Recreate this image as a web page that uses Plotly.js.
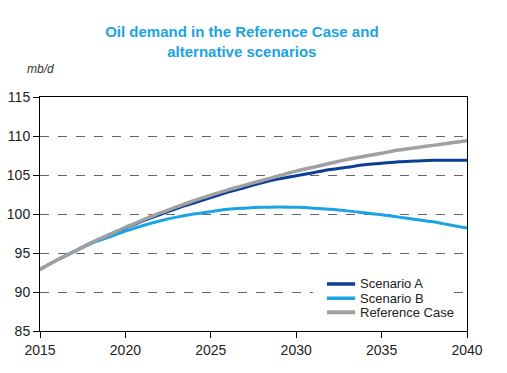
<!DOCTYPE html>
<html>
<head>
<meta charset="utf-8">
<script src="https://cdn.plot.ly/plotly-3.0.1.min.js"></script>
<style>html,body{margin:0;padding:0;background:#fff;}#chart{width:507px;height:373px;}</style>
</head>
<body>
<div id="chart"></div>
<script>
const years = [2015,2016,2017,2018,2019,2020,2021,2022,2023,2024,2025,2026,2027,2028,2029,2030,2031,2032,2033,2034,2035,2036,2037,2038,2039,2040];
const scenarioA = [92.9,94.1,95.2,96.3,97.3,98.2,99.1,99.9,100.7,101.4,102.1,102.8,103.4,104.0,104.5,104.9,105.3,105.7,106.0,106.3,106.5,106.7,106.8,106.9,106.9,106.9];
const scenarioB = [92.9,94.1,95.2,96.2,97.0,97.8,98.5,99.1,99.6,100.0,100.3,100.6,100.75,100.85,100.9,100.85,100.75,100.6,100.4,100.15,99.9,99.6,99.3,99.0,98.6,98.2];
const referenceCase = [92.9,94.1,95.2,96.3,97.3,98.3,99.2,100.1,100.9,101.7,102.4,103.1,103.7,104.3,104.9,105.5,106.0,106.5,107.0,107.4,107.8,108.2,108.5,108.8,109.1,109.4];
const seriesNames = ["Scenario A","Scenario B","Reference Case"];
const seriesColors = ["#0a3f94","#1ba3e3","#a0a0a0"];
const xTicks = [2015,2020,2025,2030,2035,2040];
const yTicks = [85,90,95,100,105,110,115];

const tickFont = {family:"Liberation Sans, Arial, sans-serif", size:14, color:"#222"};
const traces = [
  {x:years, y:scenarioA, name:seriesNames[0], mode:"lines", line:{color:seriesColors[0], width:3, shape:"spline"}},
  {x:years, y:scenarioB, name:seriesNames[1], mode:"lines", line:{color:seriesColors[1], width:3, shape:"spline"}},
  {x:years, y:referenceCase, name:seriesNames[2], mode:"lines", line:{color:seriesColors[2], width:3.5, shape:"spline"}}
];

// manual legend (paper coords)
const legX0 = 0.672, legX1 = 0.738, legTextX = 0.745;
const legRows = [0.201, 0.140, 0.080];
const shapes = [
  {type:"rect", xref:"paper", yref:"paper", x0:0.639, x1:0.965, y0:0.047, y1:0.235, fillcolor:"#fff", line:{width:0}, layer:"above"}
];
const annotations = [
  {text:"<i>mb/d</i>", xref:"paper", yref:"paper", x:-0.035, y:1.12, xanchor:"left", yanchor:"middle", showarrow:false,
   font:{family:"Liberation Sans, Arial, sans-serif", size:12, color:"#333"}}
];
seriesNames.forEach((n,i)=>{
  shapes.push({type:"line", xref:"paper", yref:"paper", x0:legX0, x1:legX1, y0:legRows[i], y1:legRows[i],
               line:{color:seriesColors[i], width:i===2?4:3.5}, layer:"above"});
  annotations.push({text:n, xref:"paper", yref:"paper", x:legTextX, y:legRows[i], xanchor:"left", yanchor:"middle",
                    showarrow:false, font:{family:"Liberation Sans, Arial, sans-serif", size:13, color:"#222"}});
});

const layout = {
  width:507, height:373,
  margin:{l:40, r:40, t:97, b:42},
  paper_bgcolor:"#fff", plot_bgcolor:"#fff",
  showlegend:false,
  title:{text:"<b>Oil demand in the Reference Case and<br>alternative scenarios</b>", x:0.477, xanchor:"center", y:0.90, yanchor:"middle",
         font:{family:"Liberation Sans, Arial, sans-serif", size:15, color:"#1ba3e3"}},
  xaxis:{range:[2015,2040], tickvals:xTicks, ticktext:xTicks.map(String), showgrid:false, zeroline:false,
         showline:true, linecolor:"#000", linewidth:1, mirror:true, ticks:"outside", ticklen:6, tickcolor:"#000",
         tickfont:tickFont},
  yaxis:{range:[85,115], tickvals:yTicks, ticktext:yTicks.map(String), showgrid:true, gridcolor:"#666", griddash:"dash", gridwidth:1,
         zeroline:false, showline:true, linecolor:"#000", linewidth:1, mirror:true, ticks:"outside", ticklen:6, tickcolor:"#000",
         tickfont:tickFont},
  shapes:shapes,
  annotations:annotations
};
Plotly.newPlot("chart", traces, layout, {displayModeBar:false, staticPlot:true});
</script>
</body>
</html>
